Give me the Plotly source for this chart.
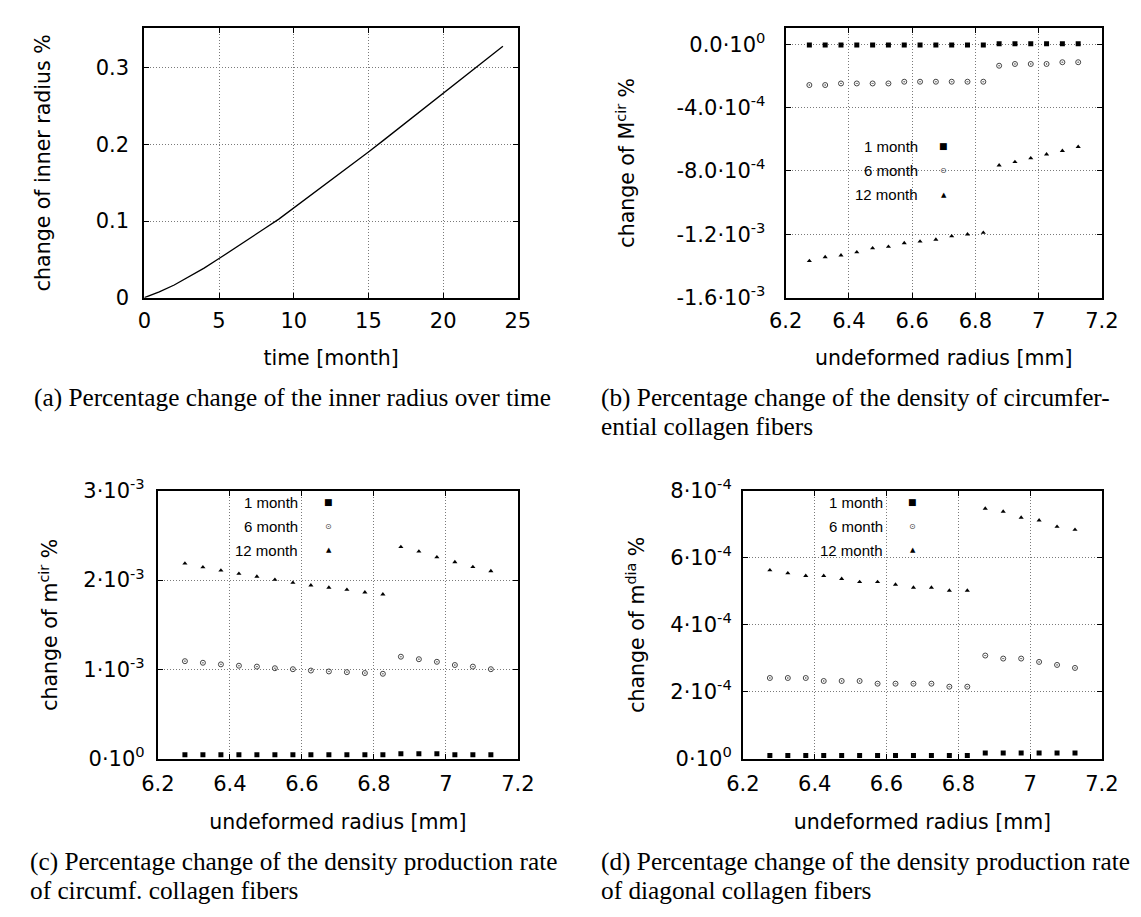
import plotly.graph_objects as go

W, H = 1141, 917

# ---------------- data ----------------
# (a) change of inner radius over time
time_month = [0, 1, 2, 3, 4, 5, 6, 7, 8, 9, 10, 11, 12, 13, 14, 15, 16, 17, 18, 19, 20, 21, 22, 23, 24]
inner_radius_change = [0.0, 0.0075, 0.0165, 0.027, 0.0385, 0.051, 0.0635, 0.0765, 0.0895, 0.1025,
                       0.117, 0.131, 0.1455, 0.160, 0.175, 0.190, 0.2052, 0.2204, 0.2356, 0.2508,
                       0.266, 0.2815, 0.297, 0.3125, 0.328]

# undeformed radius positions [mm]
radius_mm = [6.275, 6.325, 6.375, 6.425, 6.475, 6.525, 6.575, 6.625, 6.675,
             6.725, 6.775, 6.825, 6.875, 6.925, 6.975, 7.025, 7.075, 7.125]

series_names = ["1 month", "6 month", "12 month"]

# (b) change of M^cir %
Mcir_1 = [-5e-6, -5e-6, -5e-6, -5e-6, -5e-6, -5e-6, -5e-6, -5e-6, -5e-6, -5e-6, -5e-6, -5e-6,
          3e-6, 3e-6, 3e-6, 3e-6, 3e-6, 3e-6]
Mcir_6 = [-2.58e-4, -2.58e-4, -2.48e-4, -2.48e-4, -2.48e-4, -2.48e-4, -2.37e-4, -2.37e-4, -2.37e-4,
          -2.37e-4, -2.37e-4, -2.37e-4, -1.36e-4, -1.25e-4, -1.25e-4, -1.25e-4, -1.14e-4, -1.14e-4]
Mcir_12 = [-13.68e-4, -13.44e-4, -13.33e-4, -13.13e-4, -12.88e-4, -12.78e-4, -12.55e-4, -12.45e-4,
           -12.33e-4, -12.12e-4, -12.00e-4, -11.90e-4, -7.65e-4, -7.43e-4, -7.20e-4, -6.95e-4,
           -6.73e-4, -6.48e-4]

# (c) change of m^cir %
mcir_1 = [4.3e-5, 4.3e-5, 4.3e-5, 4.3e-5, 4.3e-5, 4.3e-5, 4.3e-5, 4.3e-5, 4.3e-5, 4.3e-5, 4.3e-5, 4.3e-5,
          5.5e-5, 5.5e-5, 5.5e-5, 4.3e-5, 4.3e-5, 4.3e-5]
mcir_6 = [1.092e-3, 1.074e-3, 1.056e-3, 1.041e-3, 1.031e-3, 1.013e-3, 1.002e-3, 0.987e-3, 0.977e-3,
          0.969e-3, 0.959e-3, 0.951e-3, 1.142e-3, 1.114e-3, 1.085e-3, 1.049e-3, 1.031e-3, 1.002e-3]
mcir_12 = [2.187e-3, 2.144e-3, 2.108e-3, 2.072e-3, 2.040e-3, 2.004e-3, 1.971e-3, 1.942e-3, 1.917e-3,
           1.892e-3, 1.863e-3, 1.841e-3, 2.371e-3, 2.321e-3, 2.256e-3, 2.202e-3, 2.148e-3, 2.101e-3]

# (d) change of m^dia %
mdia_1 = [0.95e-5, 0.95e-5, 0.95e-5, 0.95e-5, 0.95e-5, 0.95e-5, 0.95e-5, 0.95e-5, 0.95e-5, 0.95e-5,
          0.95e-5, 0.95e-5, 1.73e-5, 1.73e-5, 1.73e-5, 1.73e-5, 1.73e-5, 1.73e-5]
mdia_6 = [2.41e-4, 2.41e-4, 2.41e-4, 2.32e-4, 2.32e-4, 2.32e-4, 2.24e-4, 2.24e-4, 2.24e-4, 2.24e-4,
          2.15e-4, 2.15e-4, 3.08e-4, 2.99e-4, 2.99e-4, 2.89e-4, 2.80e-4, 2.71e-4]
mdia_12 = [5.63e-4, 5.54e-4, 5.46e-4, 5.46e-4, 5.37e-4, 5.28e-4, 5.28e-4, 5.20e-4, 5.11e-4, 5.11e-4,
           5.02e-4, 5.02e-4, 7.47e-4, 7.38e-4, 7.20e-4, 7.12e-4, 6.93e-4, 6.84e-4]

# tick labels
a_xticks = [0, 5, 10, 15, 20, 25]
a_yticks = [0, 0.1, 0.2, 0.3]
a_yticklabels = ["0", "0.1", "0.2", "0.3"]
r_xticks = [6.2, 6.4, 6.6, 6.8, 7.0, 7.2]
r_xticklabels = ["6.2", "6.4", "6.6", "6.8", "7", "7.2"]
b_yticks = [0, -4e-4, -8e-4, -1.2e-3, -1.6e-3]
b_yticklabels = ["0.0·10<sup>0</sup>", "-4.0·10<sup>-4</sup>", "-8.0·10<sup>-4</sup>",
                 "-1.2·10<sup>-3</sup>", "-1.6·10<sup>-3</sup>"]
c_yticks = [0, 1e-3, 2e-3, 3e-3]
c_yticklabels = ["0·10<sup>0</sup>", "1·10<sup>-3</sup>", "2·10<sup>-3</sup>", "3·10<sup>-3</sup>"]
d_yticks = [0, 2e-4, 4e-4, 6e-4, 8e-4]
d_yticklabels = ["0·10<sup>0</sup>", "2·10<sup>-4</sup>", "4·10<sup>-4</sup>", "6·10<sup>-4</sup>",
                 "8·10<sup>-4</sup>"]

captions = {
    "a": ["(a) Percentage change of the inner radius over time"],
    "b": ["(b) Percentage change of the density of circumfer-", "ential collagen fibers"],
    "c": ["(c) Percentage change of the density production rate", "of circumf. collagen fibers"],
    "d": ["(d) Percentage change of the density production rate", "of diagonal collagen fibers"],
}

# ---------------- styling helpers ----------------
SANS = "DejaVu Sans"
SERIF = "Liberation Serif"
LEG = "Liberation Sans"
TICK_SIZE = 21
TITLE_SIZE = 20.5
CAP_SIZE = 25.3


def px(x):
    return x / W


def py(y):
    return 1 - y / H


def axis(domain, rng, tickvals, ticktext, title, standoff, labelstandoff, anchor):
    return dict(
        domain=domain, range=rng, anchor=anchor,
        tickmode="array", tickvals=tickvals, ticktext=ticktext,
        showline=True, linewidth=2, linecolor="black", mirror="ticks",
        ticks="inside", ticklen=5, tickwidth=1, tickcolor="black",
        showgrid=True, gridcolor="#7a7a7a", griddash="1px,2px", gridwidth=1,
        zeroline=False,
        tickfont=dict(family=SANS, size=TICK_SIZE, color="black"),
        ticklabelstandoff=labelstandoff,
        title=dict(text=title, standoff=standoff,
                   font=dict(family=SANS, size=TITLE_SIZE, color="black")),
        fixedrange=True,
    )


top_dom = [py(283), py(5)]
bot_dom = [py(758), py(482)]
dom_a = [px(123), px(508)]
dom_b = [px(784), px(1110)]
dom_c = [px(137), px(508)]
dom_d = [px(740), px(1110)]

fig = go.Figure()

# (a)
fig.add_trace(go.Scatter(x=time_month, y=inner_radius_change, mode="lines",
                         line=dict(color="black", width=1.3), xaxis="x", yaxis="y",
                         showlegend=False))

marker_styles = [
    dict(symbol="square", size=5, color="black"),
    dict(symbol="circle-open-dot", size=5, color="#444444", line=dict(color="#444444", width=1)),
    dict(symbol="triangle-up", size=4.5, color="black"),
]

panels = [
    ("x2", "y2", [Mcir_1, Mcir_6, Mcir_12]),
    ("x3", "y3", [mcir_1, mcir_6, mcir_12]),
    ("x4", "y4", [mdia_1, mdia_6, mdia_12]),
]
for xa, ya, sers in panels:
    for name, vals, ms in zip(series_names, sers, marker_styles):
        fig.add_trace(go.Scatter(x=radius_mm, y=vals, mode="markers", name=name,
                                 marker=ms, xaxis=xa, yaxis=ya, showlegend=False))

layout = dict(
    width=W, height=H, margin=dict(l=0, r=0, t=0, b=0),
    paper_bgcolor="white", plot_bgcolor="white", showlegend=False,
    xaxis=axis(dom_a, [0, 25], a_xticks, [str(v) for v in a_xticks], "time [month]", 19, 3, "y"),
    yaxis=axis(top_dom, [0, 0.352], a_yticks, a_yticklabels, "change of inner radius %", 40, 9, "x"),
    xaxis2=axis(dom_b, [6.2, 7.2], r_xticks, r_xticklabels, "undeformed radius [mm]", 19, 3, "y2"),
    yaxis2=axis(top_dom, [-1.6e-3, 1.03e-4], b_yticks, b_yticklabels, "change of M<sup>cir</sup> %", 36, 14, "x2"),
    xaxis3=axis(dom_c, [6.2, 7.2], r_xticks, r_xticklabels, "undeformed radius [mm]", 20, 5, "y3"),
    yaxis3=axis(bot_dom, [0, 3e-3], c_yticks, c_yticklabels, "change of m<sup>cir</sup> %", 20, 7, "x3"),
    xaxis4=axis(dom_d, [6.2, 7.2], r_xticks, r_xticklabels, "undeformed radius [mm]", 20, 5, "y4"),
    yaxis4=axis(bot_dom, [0, 8e-4], d_yticks, d_yticklabels, "change of m<sup>dia</sup> %", 20, 5, "x4"),
)
fig.update_layout(**layout)

# legend key boxes (white, drawn over the grid but under the points)
legend_boxes = [(850, 118, 972, 188), (215, 483, 340, 555), (816, 483, 943, 555)]
for (x0, y0, x1, y1) in legend_boxes:
    fig.add_shape(type="rect", xref="paper", yref="paper", x0=px(x0), x1=px(x1), y0=py(y1), y1=py(y0),
                  fillcolor="white", line=dict(width=0), layer="between")

# legend texts and keys (gnuplot style: text, then symbol on the right)
legend_pos = [(922, 947, [127, 152, 177]), (283, 313, [494, 519, 543]), (886, 915, [494, 519, 543])]
key_glyphs = [("■", 9, "black"), ("⊙", 8, "#444444"), ("▲", 7, "black")]
for (tx, mx, rows) in legend_pos:
    for name, (g, gs, gc), ry in zip(series_names, key_glyphs, rows):
        fig.add_annotation(x=px(tx), y=py(ry), xref="paper", yref="paper", text=name,
                           showarrow=False, xanchor="right", yanchor="middle",
                           font=dict(family=LEG, size=15, color="black"))
        fig.add_annotation(x=px(mx), y=py(ry), xref="paper", yref="paper", text=g,
                           showarrow=False, xanchor="center", yanchor="middle",
                           font=dict(family="DejaVu Sans", size=gs, color=gc))

# captions
cap_pos = {"a": (7, [386]), "b": (592, [386, 415]), "c": (3, [864, 893]), "d": (592, [864, 893])}
for key, lines in captions.items():
    x0, ys = cap_pos[key]
    for line, yy in zip(lines, ys):
        fig.add_annotation(x=px(x0), y=py(yy), xref="paper", yref="paper", text=line,
                           showarrow=False, xanchor="left", yanchor="middle", align="left",
                           font=dict(family=SERIF, size=CAP_SIZE, color="black"))

fig.write_html("out.html")
